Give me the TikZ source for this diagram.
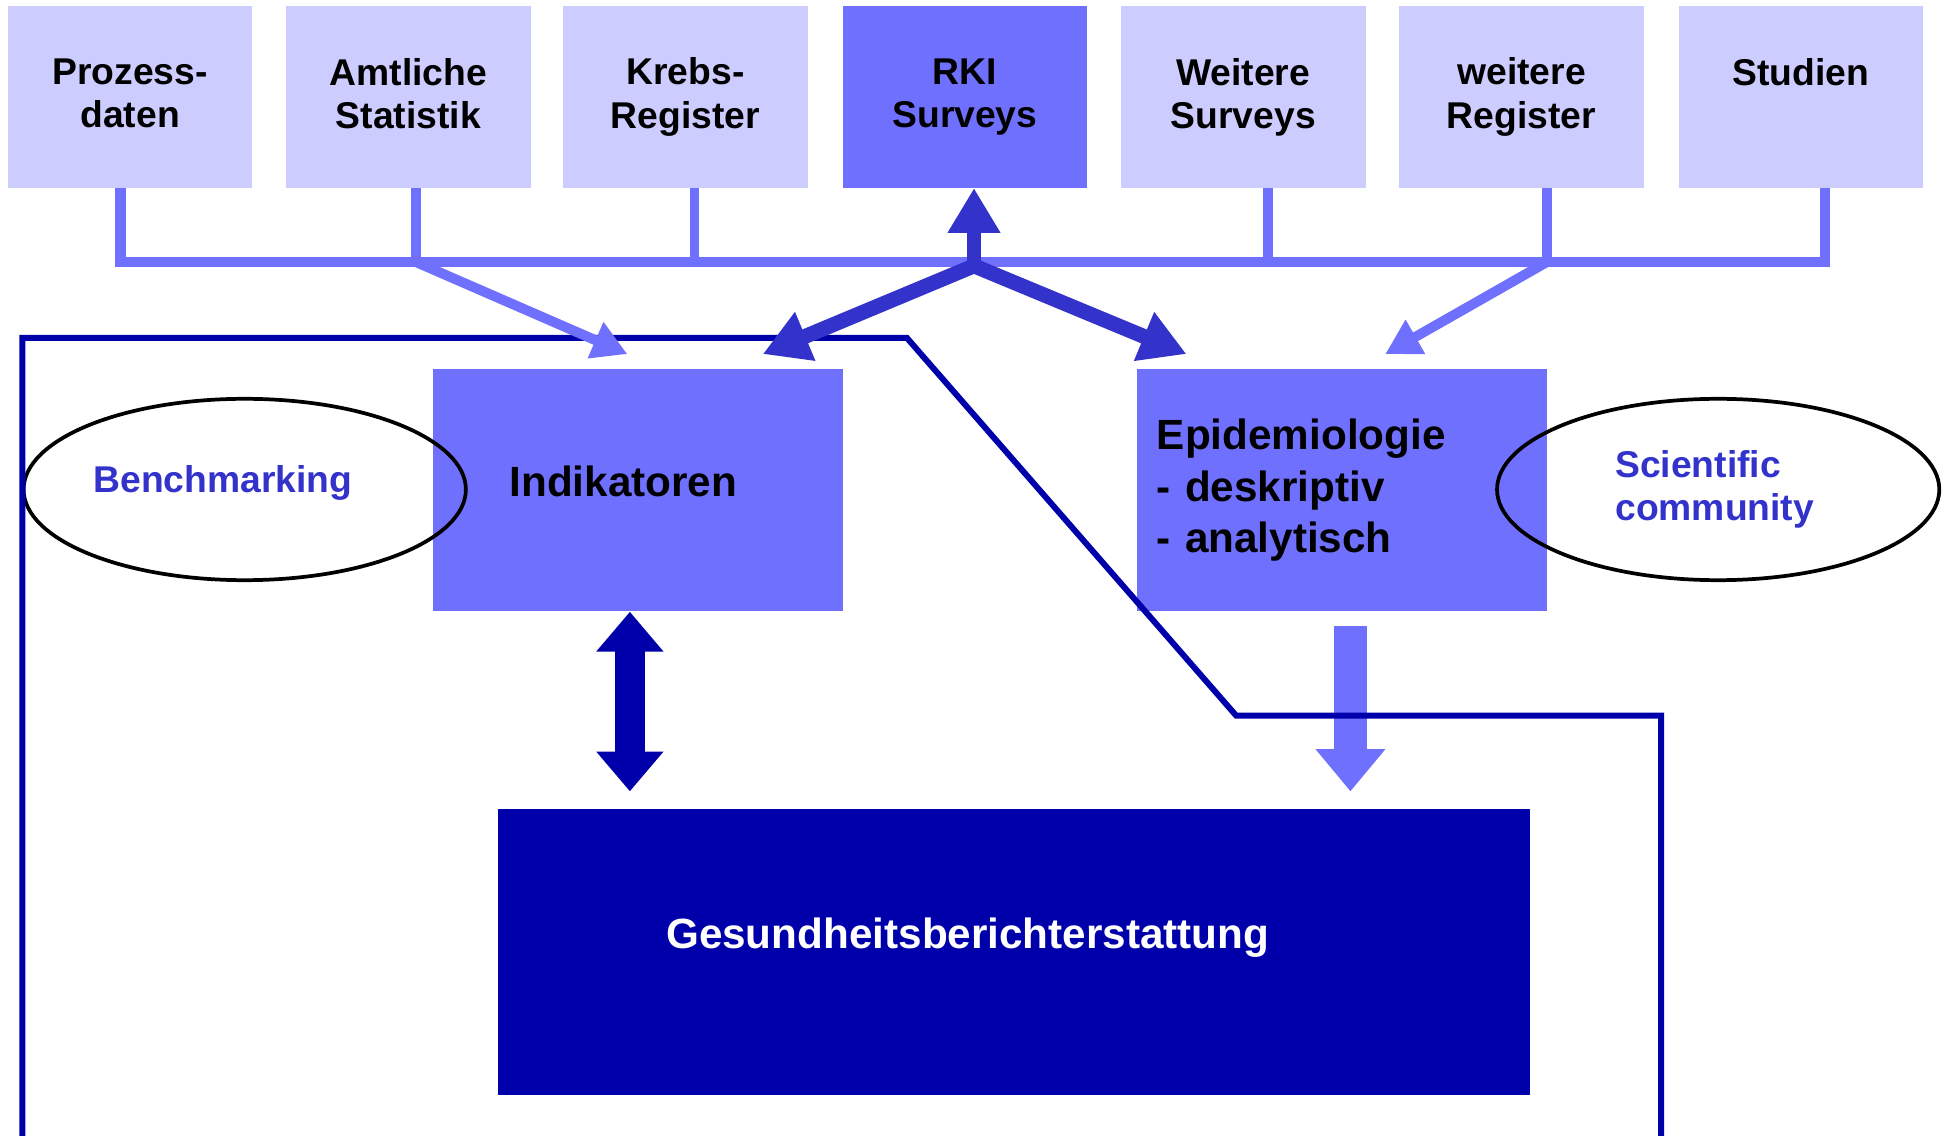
\documentclass[tikz,border=0pt]{standalone}
\usepackage{fontspec}
\setmainfont{Liberation Sans}
\usetikzlibrary{arrows.meta,shapes.geometric}
\definecolor{light}{HTML}{CCCCFF}
\definecolor{mid}{HTML}{7070FF}
\definecolor{darkarr}{HTML}{3333CC}
\definecolor{navy}{HTML}{0000AA}
\newcommand{\dpfix}{\rule[-6pt]{0pt}{1pt}}
\begin{document}
\begin{tikzpicture}[x=1pt,y=-1pt,
  src/.style={fill=light, draw=none, minimum width=197pt, minimum height=146pt,
    anchor=north west, inner sep=0pt, align=center,
    font=\fontsize{30}{35}\selectfont\bfseries},
  midbox/.style={fill=mid, draw=none, anchor=north west, inner ysep=0pt,
    minimum width=330pt, minimum height=195pt, align=left,
    font=\fontsize{34}{41.5}\selectfont\bfseries},
  oval/.style={ellipse, draw=black, line width=3pt, minimum width=356pt, minimum height=146pt},
  ovaltext/.style={anchor=west, inner sep=0pt, text=darkarr, align=left,
    font=\fontsize{30}{35}\selectfont\bfseries},
  busline/.style={draw=mid, line width=8.5pt},
  lightarrow/.style={draw=mid, line width=8pt, -{Triangle[length=28pt,width=30pt]}},
  rkiarrow/.style={draw=darkarr, line width=12pt, line join=miter},
  framel/.style={draw=navy, line width=4.8pt, line join=miter}
]
\useasboundingbox (0,0) rectangle (1568,914);

% source boxes
\node[src] (p1) at (6,5) {Prozess-\\daten\dpfix};
\node[src] (p2) at (230,5) {Amtliche\\Statistik\dpfix};
\node[src] (p3) at (453,5) {Krebs-\\Register\dpfix};
\node[src, fill=mid] (p4) at (678,5) {RKI\\Surveys\dpfix};
\node[src] (p5) at (902,5) {Weitere\\Surveys\dpfix};
\node[src] (p6) at (1126,5) {weitere\\Register\dpfix};
\node[src] (p7) at (1351,5) {Studien\\\dpfix};

% middle boxes
\node[midbox, inner xsep=62pt, text width=206pt, text height=24pt, text depth=14pt] (ind) at (348,297) {Indikatoren};
\node[midbox, inner xsep=16pt, text width=298pt] (epi) at (915,297) {Epidemiologie\\- deskriptiv\\- analytisch};

% GBE box
\node[fill=navy, draw=none, anchor=north west, minimum width=830pt, minimum height=230pt] (gbe) at (401,651) {};
\node[anchor=west, inner sep=0pt, text=white, font=\fontsize{34}{40}\selectfont\bfseries] (gbeT) at (536,755) {Gesundheitsberichterstattung};

% ellipses
\node[oval] (bm) at (197,394) {};
\node[ovaltext] (bmT) at (75,389) {Benchmarking};
\node[oval] (sc) at (1383,394) {};
\node[ovaltext] (scT) at (1300,394) {Scientific\\community};

% bus coordinates
\coordinate (b1) at (97,211);
\coordinate (b2) at (335,211);
\coordinate (b3) at (559,211);
\coordinate (bR) at (784,211);
\coordinate (bRj) at (784,214);
\coordinate (b5) at (1021,211);
\coordinate (b6) at (1245,211);
\coordinate (b7) at (1469,211);
\coordinate (tA) at (505,285);
\coordinate (tL) at (614,285);
\coordinate (tR) at (955,285);
\coordinate (tW) at (1115,285);
\coordinate (dA) at (507,637);
\coordinate (eA) at (1087,504);
\coordinate (eB) at (1087,637);

% frame line
\coordinate (f1) at (18,920);
\coordinate (f2) at (18,272);
\coordinate (f3) at (730,272);
\coordinate (f4) at (995,576);
\coordinate (f5) at (1337,576);
\coordinate (f6) at (1337,920);

% epi down arrow
\draw[draw=mid, line width=26pt, -{Triangle[length=34pt,width=54pt]}] (eA) -- (eB);

\draw[framel] (f1) -- (f2) -- (f3) -- (f4) -- (f5) -- (f6);

% bus
\draw[busline, line join=miter] (p1.south -| b1) -- (b1) -- (b7) -- (p7.south -| b7);
\draw[busline, line width=8pt] (p2.south -| b2) -- (b2);
\draw[busline, line width=8pt] (p3.south -| b3) -- (b3);
\draw[busline, line width=8pt] (p5.south -| b5) -- (b5);
\draw[busline, line width=8pt] (p6.south -| b6) -- (b6);

% light arrows
\draw[lightarrow] (b2) -- (tA);
\draw[lightarrow] (b6) -- (tW);

% RKI arrows
\draw[rkiarrow, {Triangle[length=37pt,width=40pt]}-{Triangle[length=37pt,width=40pt]}] (tL) -- (bRj) -- (tR);
\draw[draw=darkarr, line width=11pt, -{Triangle[length=36pt,width=40pt]}] (bRj) -- (p4.south -| bR);

% indikatoren <-> GBE
\draw[draw=navy, line width=24pt, {Triangle[length=32pt,width=52pt]}-{Triangle[length=32pt,width=52pt]}] (ind.south -| dA) -- (dA);
\end{tikzpicture}
\end{document}
